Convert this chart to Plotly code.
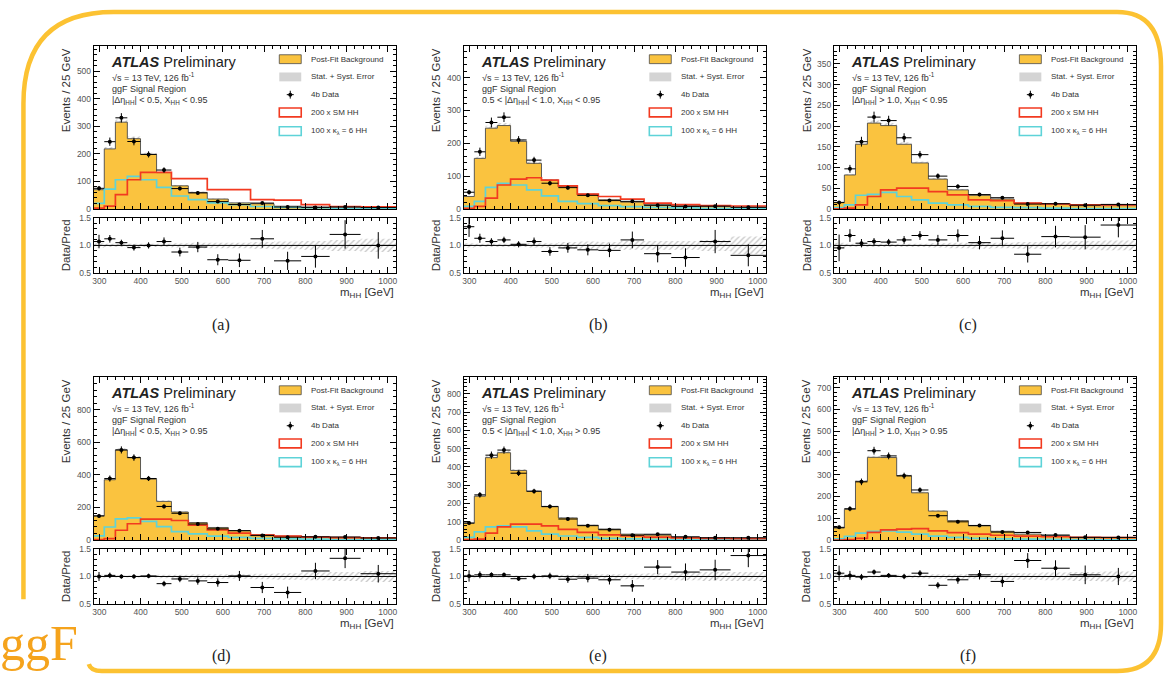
import math
import plotly.graph_objects as go

W, H = 1166, 681
FONT = "Liberation Sans, Arial, Helvetica, sans-serif"
ORANGE = "#FAC33F"
RED = "#F23A20"
CYAN = "#5ED3D8"

# m_HH binning [GeV]
mhh_edges = [286.5, 312, 339, 368, 400, 439, 475, 516, 562, 613, 667, 724, 790, 859, 934, 1020]

# (a) |deta| < 0.5, X_HH < 0.95
bkg_a = [70, 218, 315, 255, 198, 132, 84, 60, 36, 22, 19, 10, 7, 6, 5]
ratio_a = [1.07, 1.12, 1.05, 0.96, 1.00, 1.07, 0.88, 0.97, 0.74, 0.73, 1.12, 0.72, 0.80, 1.20, 1.00]
sm_a = [3, 10, 52, 106, 133, 133, 110, 110, 70, 70, 34, 32, 16, 9, 8]
kl6_a = [20, 72, 106, 118, 106, 78, 47, 34, 22, 16, 9, 6, 4, 2, 2]
relerr_a = [0.04, 0.03, 0.03, 0.03, 0.03, 0.03, 0.04, 0.05, 0.05, 0.05, 0.06, 0.07, 0.08, 0.10, 0.12]

# (b) 0.5 < |deta| < 1.0, X_HH < 0.95
bkg_b = [38, 154, 246, 254, 206, 139, 88, 68, 45, 28, 21, 13, 10, 8, 6]
ratio_b = [1.34, 1.13, 1.07, 1.10, 1.02, 1.07, 0.89, 0.955, 0.92, 0.91, 1.10, 0.85, 0.78, 1.07, 0.82]
sm_b = [2, 8, 33, 73, 91, 95, 88, 70, 45, 38, 30, 18, 13, 10, 9]
kl6_b = [8, 23, 66, 78, 73, 58, 40, 23, 16, 10, 7, 5, 3, 2, 2]
relerr_b = [0.04, 0.03, 0.03, 0.03, 0.03, 0.04, 0.04, 0.06, 0.07, 0.06, 0.08, 0.08, 0.08, 0.10, 0.16]

# (c) |deta| > 1.0, X_HH < 0.95
bkg_c = [16, 82, 156, 207, 201, 156, 111, 72, 46, 33, 24, 14, 11, 8, 8]
ratio_c = [0.955, 1.18, 1.04, 1.07, 1.06, 1.10, 1.18, 1.10, 1.18, 1.05, 1.13, 0.84, 1.16, 1.15, 1.37]
sm_c = [0, 2, 10, 30, 46, 50, 50, 42, 34, 22, 20, 14, 12, 10, 10]
kl6_c = [3, 10, 33, 35, 40, 30, 22, 14, 10, 6, 4, 3, 2, 1, 1]
relerr_c = [0.05, 0.03, 0.03, 0.03, 0.03, 0.03, 0.03, 0.04, 0.05, 0.06, 0.05, 0.06, 0.07, 0.08, 0.09]

# (d) |deta| < 0.5, X_HH > 0.95
bkg_d = [148, 370, 553, 506, 374, 237, 172, 107, 77, 57, 34, 24, 18, 14, 12]
ratio_d = [1.00, 1.02, 1.00, 1.00, 1.01, 0.87, 0.955, 0.92, 0.89, 1.01, 0.80, 0.71, 1.10, 1.33, 1.05]
sm_d = [3, 8, 60, 100, 128, 128, 120, 92, 62, 42, 30, 24, 18, 15, 14]
kl6_d = [26, 80, 130, 136, 115, 82, 52, 38, 24, 16, 10, 7, 5, 3, 2]
relerr_d = [0.03, 0.02, 0.02, 0.02, 0.02, 0.03, 0.03, 0.04, 0.04, 0.04, 0.05, 0.06, 0.07, 0.08, 0.10]

# (e) 0.5 < |deta| < 1.0, X_HH > 0.95
bkg_e = [92, 240, 451, 478, 381, 267, 182, 121, 81, 60, 32, 27, 16, 11, 9]
ratio_e = [1.01, 1.03, 1.03, 1.03, 0.96, 1.00, 1.01, 0.95, 0.97, 0.94, 0.83, 1.17, 1.08, 1.12, 1.38]
sm_e = [2, 5, 38, 72, 87, 87, 78, 58, 42, 28, 22, 16, 12, 9, 8]
kl6_e = [14, 45, 72, 78, 72, 50, 32, 22, 14, 9, 6, 4, 3, 2, 1]
relerr_e = [0.03, 0.02, 0.02, 0.02, 0.02, 0.02, 0.03, 0.03, 0.04, 0.04, 0.05, 0.06, 0.07, 0.08, 0.08]

# (f) |deta| > 1.0, X_HH > 0.95
bkg_f = [55, 141, 270, 380, 379, 295, 217, 133, 89, 65, 40, 27, 20, 12, 12]
ratio_f = [1.06, 1.02, 0.99, 1.08, 1.02, 1.00, 1.06, 0.84, 0.94, 1.03, 0.91, 1.29, 1.15, 1.03, 1.00]
sm_f = [0, 2, 8, 35, 47, 50, 52, 42, 34, 27, 22, 18, 15, 12, 11]
kl6_f = [5, 17, 32, 40, 42, 36, 27, 18, 12, 8, 5, 4, 3, 2, 1]
relerr_f = [0.05, 0.03, 0.02, 0.02, 0.02, 0.03, 0.03, 0.04, 0.04, 0.04, 0.06, 0.06, 0.07, 0.08, 0.09]

panel_letters = ["(a)", "(b)", "(c)", "(d)", "(e)", "(f)"]
cut_labels = [
    "|Δη<sub>HH</sub>| &lt; 0.5, X<sub>HH</sub> &lt; 0.95",
    "0.5 &lt; |Δη<sub>HH</sub>| &lt; 1.0, X<sub>HH</sub> &lt; 0.95",
    "|Δη<sub>HH</sub>| &gt; 1.0, X<sub>HH</sub> &lt; 0.95",
    "|Δη<sub>HH</sub>| &lt; 0.5, X<sub>HH</sub> &gt; 0.95",
    "0.5 &lt; |Δη<sub>HH</sub>| &lt; 1.0, X<sub>HH</sub> &gt; 0.95",
    "|Δη<sub>HH</sub>| &gt; 1.0, X<sub>HH</sub> &gt; 0.95",
]
y_max = [590, 495, 392, 998, 890, 747]
y_dtick = [100, 100, 50, 200, 100, 100]

panels = [
    (bkg_a, ratio_a, sm_a, kl6_a, relerr_a),
    (bkg_b, ratio_b, sm_b, kl6_b, relerr_b),
    (bkg_c, ratio_c, sm_c, kl6_c, relerr_c),
    (bkg_d, ratio_d, sm_d, kl6_d, relerr_d),
    (bkg_e, ratio_e, sm_e, kl6_e, relerr_e),
    (bkg_f, ratio_f, sm_f, kl6_f, relerr_f),
]

# page geometry in pixels
COL_X = [92, 463, 834]
ROW_Y = [42, 378]
PW, MH, GAP, RH = 303, 165, 9, 56
LETTER_X = [220, 598, 968]


def fx(px):
    return px / W


def fy(py):
    return 1 - py / H


centers = [(a + b) / 2 for a, b in zip(mhh_edges[:-1], mhh_edges[1:])]
widths = [b - a for a, b in zip(mhh_edges[:-1], mhh_edges[1:])]
halfw = [w / 2 for w in widths]


def steps(v):
    return list(v) + [v[-1]]


fig = go.Figure()
layout = {}
ann = []
shp = []

axis_common = dict(
    ticks="inside", tickwidth=1, tickcolor="black", showline=True, linecolor="black",
    linewidth=1, mirror="ticks", showgrid=False, zeroline=False,
    tickfont=dict(size=8.5, color="#555", family=FONT),
)

hatch = dict(shape="/", fgcolor="#8a8a8a", bgcolor="rgba(0,0,0,0)",
             size=4, solidity=0.3, fillmode="overlay")

for i, (bkg, ratio, sm, kl6, rel) in enumerate(panels):
    c, r = i % 3, i // 3
    km, kr = 2 * i + 1, 2 * i + 2
    xm = "x" if km == 1 else f"x{km}"
    ym = "y" if km == 1 else f"y{km}"
    xr, yr = f"x{kr}", f"y{kr}"
    left, top = COL_X[c], ROW_Y[r]
    rtop = top + MH + GAP
    rbot = rtop + RH

    data = [b * q for b, q in zip(bkg, ratio)]
    n_data = [d * w / 25 for d, w in zip(data, widths)]
    n_bkg = [b * w / 25 for b, w in zip(bkg, widths)]
    data_err = [math.sqrt(n) * 25 / w for n, w in zip(n_data, widths)]
    ratio_err = [math.sqrt(n) / nb for n, nb in zip(n_data, n_bkg)]

    # ---- upper panel
    fig.add_trace(go.Scatter(
        x=mhh_edges, y=steps(bkg), xaxis=xm, yaxis=ym, mode="lines", line_shape="hv",
        line=dict(color="#4a4a4a", width=0.9), fill="tozeroy", fillcolor=ORANGE,
        hoverinfo="skip"))
    fig.add_trace(go.Bar(
        x=centers, width=widths, base=[b * (1 - e) for b, e in zip(bkg, rel)],
        y=[2 * b * e for b, e in zip(bkg, rel)], xaxis=xm, yaxis=ym,
        marker=dict(color="rgba(0,0,0,0)", line=dict(width=0), pattern=hatch),
        hoverinfo="skip"))
    fig.add_trace(go.Scatter(
        x=mhh_edges, y=steps(kl6), xaxis=xm, yaxis=ym, mode="lines", line_shape="hv",
        line=dict(color=CYAN, width=1.7), hoverinfo="skip"))
    fig.add_trace(go.Scatter(
        x=mhh_edges, y=steps(sm), xaxis=xm, yaxis=ym, mode="lines", line_shape="hv",
        line=dict(color=RED, width=1.7), hoverinfo="skip"))
    fig.add_trace(go.Scatter(
        x=centers, y=data, xaxis=xm, yaxis=ym, mode="markers",
        marker=dict(color="black", size=4),
        error_y=dict(type="data", array=data_err, thickness=1, width=0, color="black"),
        error_x=dict(type="data", array=halfw, thickness=1, width=0, color="black")))

    # ---- ratio panel
    fig.add_trace(go.Bar(
        x=centers, width=widths, base=[1 - e for e in rel], y=[2 * e for e in rel],
        xaxis=xr, yaxis=yr,
        marker=dict(color="rgba(0,0,0,0)", line=dict(width=0), pattern=hatch),
        hoverinfo="skip"))
    fig.add_trace(go.Scatter(
        x=centers, y=ratio, xaxis=xr, yaxis=yr, mode="markers",
        marker=dict(color="black", size=4),
        error_y=dict(type="data", array=ratio_err, thickness=1, width=0, color="black"),
        error_x=dict(type="data", array=halfw, thickness=1, width=0, color="black")))
    shp.append(dict(type="line", xref=f"{xr} domain", yref=yr, x0=0, x1=1, y0=1, y1=1,
                    line=dict(color="black", width=1), layer="above"))

    xdom = [fx(left), fx(left + PW)]
    minor_x = dict(ticks="inside", tick0=0, dtick=20, ticklen=3, tickcolor="black", tickwidth=0.8)
    xaxis_main = dict(axis_common, domain=xdom, anchor=ym, range=[mhh_edges[0], mhh_edges[-1]],
                      tickmode="linear", tick0=0, dtick=100, ticklen=6, showticklabels=False,
                      minor=minor_x)
    xaxis_ratio = dict(axis_common, domain=xdom, anchor=yr, range=[mhh_edges[0], mhh_edges[-1]],
                       tickmode="linear", tick0=0, dtick=100, ticklen=6, minor=minor_x)
    yaxis_main = dict(axis_common, domain=[fy(top + MH), fy(top)], anchor=xm,
                      range=[0, y_max[i]], tickmode="linear", tick0=0, dtick=y_dtick[i],
                      ticklen=6,
                      minor=dict(ticks="inside", tick0=0, dtick=y_dtick[i] / 5, ticklen=3,
                                 tickcolor="black", tickwidth=0.8))
    yaxis_ratio = dict(axis_common, domain=[fy(rbot), fy(rtop)], anchor=xr,
                       range=[0.499, 1.501], tickmode="linear", tick0=0.5, dtick=0.5,
                       tickformat=".1f", ticklen=6,
                       minor=dict(ticks="inside", tick0=0.5, dtick=0.1, ticklen=3,
                                  tickcolor="black", tickwidth=0.8))
    layout["xaxis" if km == 1 else f"xaxis{km}"] = xaxis_main
    layout["yaxis" if km == 1 else f"yaxis{km}"] = yaxis_main
    layout[f"xaxis{kr}"] = xaxis_ratio
    layout[f"yaxis{kr}"] = yaxis_ratio

    # ---- axis titles
    ann.append(dict(xref="paper", yref="paper", x=fx(left - 27), y=fy(top), text="Events / 25 GeV",
                    textangle=-90, xanchor="center", yanchor="top", showarrow=False,
                    font=dict(size=11.5, color="#333", family=FONT)))
    ann.append(dict(xref="paper", yref="paper", x=fx(left - 27), y=fy((rtop + rbot) / 2),
                    text="Data/Pred", textangle=-90, xanchor="center", yanchor="middle",
                    showarrow=False, font=dict(size=11.5, color="#333", family=FONT)))
    ann.append(dict(xref="paper", yref="paper", x=fx(left + PW), y=fy(rbot + 20),
                    text="m<sub>HH</sub> [GeV]", xanchor="right", yanchor="middle",
                    showarrow=False, font=dict(size=11.5, color="#333", family=FONT)))
    ann.append(dict(xref="paper", yref="paper", x=fx(LETTER_X[c]), y=fy(rbot + 53),
                    text=panel_letters[i], xanchor="center", yanchor="middle", showarrow=False,
                    font=dict(size=16, color="#222", family="Liberation Serif, Times New Roman, serif")))

    # ---- in-frame labels
    dref_x, dref_y = f"{xm} domain", f"{ym} domain"

    def dx(px):
        return px / PW

    def dy(py):
        return 1 - py / MH

    ann.append(dict(xref=dref_x, yref=dref_y, x=dx(15), y=dy(16),
                    text="<b><i>ATLAS</i></b> Preliminary", xanchor="left", yanchor="middle",
                    showarrow=False, font=dict(size=14.5, color="#222", family=FONT)))
    for off, txt in [(31, "√s = 13 TeV, 126 fb<sup>-1</sup>"), (43, "ggF Signal Region"),
                     (55, cut_labels[i])]:
        ann.append(dict(xref=dref_x, yref=dref_y, x=dx(16), y=dy(off), text=txt,
                        xanchor="left", yanchor="middle", showarrow=False,
                        font=dict(size=9, color="#333", family=FONT)))

    # ---- legend
    rows_off = [13, 31, 49, 67, 86]
    bx0, bx1, hh = 186, 208, 4.5
    leg_text = ["Post-Fit Background", "Stat. + Syst. Error", "4b Data",
                "200 x SM HH", "100 x κ<sub>λ</sub> = 6 HH"]
    for j, off in enumerate(rows_off):
        ann.append(dict(xref=dref_x, yref=dref_y, x=dx(216), y=dy(off), text=leg_text[j],
                        xanchor="left", yanchor="middle", showarrow=False,
                        font=dict(size=8, color="#333", family=FONT)))
    shp.append(dict(type="rect", xref=dref_x, yref=dref_y, x0=dx(bx0), x1=dx(bx1),
                    y0=dy(rows_off[0] + hh), y1=dy(rows_off[0] - hh), fillcolor=ORANGE,
                    line=dict(color="#4a4a4a", width=0.8)))
    shp.append(dict(type="rect", xref=dref_x, yref=dref_y, x0=dx(bx0), x1=dx(bx1),
                    y0=dy(rows_off[1] + hh), y1=dy(rows_off[1] - hh), fillcolor="#d4d4d4",
                    line=dict(width=0)))
    xc = (bx0 + bx1) / 2
    shp.append(dict(type="line", xref=dref_x, yref=dref_y, x0=dx(xc), x1=dx(xc),
                    y0=dy(rows_off[2] + 4), y1=dy(rows_off[2] - 4), line=dict(color="black", width=1)))
    shp.append(dict(type="line", xref=dref_x, yref=dref_y, x0=dx(xc - 3.5), x1=dx(xc + 3.5),
                    y0=dy(rows_off[2]), y1=dy(rows_off[2]), line=dict(color="black", width=1)))
    shp.append(dict(type="circle", xref=dref_x, yref=dref_y, x0=dx(xc - 2), x1=dx(xc + 2),
                    y0=dy(rows_off[2] + 2), y1=dy(rows_off[2] - 2), fillcolor="black",
                    line=dict(width=0)))
    for j, col in [(3, RED), (4, CYAN)]:
        shp.append(dict(type="rect", xref=dref_x, yref=dref_y, x0=dx(bx0), x1=dx(bx1),
                        y0=dy(rows_off[j] + hh), y1=dy(rows_off[j] - hh),
                        fillcolor="rgba(0,0,0,0)", line=dict(color=col, width=1.6)))

# ---- decorative frame around the figure
def pt(x, y):
    return f"{fx(x):.5f},{fy(y):.5f}"


frame_path = (
    f"M {pt(21.5, 603)} L {pt(21.5, 100)} Q {pt(21.5, 7)} {pt(112, 7)} "
    f"L {pt(1118, 7)} Q {pt(1162, 7)} {pt(1162, 62)} "
    f"L {pt(1162, 628)} Q {pt(1162, 676)} {pt(1118, 676)} "
    f"L {pt(100, 676)} Q {pt(89, 676)} {pt(87, 669)}"
)
shp.append(dict(type="path", xref="paper", yref="paper", path=frame_path,
                line=dict(color="#FCC232", width=4.5), layer="below"))
ann.append(dict(xref="paper", yref="paper", x=fx(-4), y=fy(648), text="ggF",
                xanchor="left", yanchor="middle", showarrow=False,
                font=dict(size=50, color="#F5A31C", family="Liberation Serif, Times New Roman, serif")))

fig.update_layout(
    width=W, height=H, margin=dict(l=0, r=0, t=0, b=0),
    paper_bgcolor="white", plot_bgcolor="white", showlegend=False,
    barmode="overlay", font=dict(family=FONT), annotations=ann, shapes=shp, **layout)

fig.write_html("out.html")
